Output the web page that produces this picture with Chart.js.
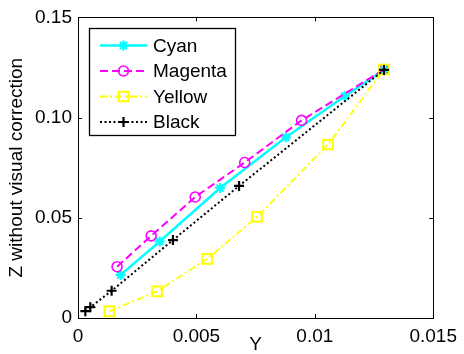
<!DOCTYPE html>
<html><head><meta charset="utf-8">
<script src="https://cdn.jsdelivr.net/npm/chart.js@4/dist/chart.umd.min.js"></script>
<style>html,body{margin:0;padding:0;background:#fff}#w{width:464px;height:354px;position:relative}</style>
</head><body><div id="w"><canvas id="c" width="464" height="354"></canvas></div>
<script>
const seriesNames = ["Cyan", "Magenta", "Yellow", "Black"];
const cyanX = [0.0018, 0.00345, 0.0060, 0.00878, 0.01126, 0.01292];
const cyanY = [0.0215, 0.0382, 0.0649, 0.0902, 0.1107, 0.1238];
const magentaX = [0.00165, 0.00309, 0.00495, 0.00704, 0.00944, 0.01292];
const magentaY = [0.0256, 0.0410, 0.0604, 0.0776, 0.0986, 0.1240];
const yellowX = [0.00132, 0.00334, 0.00546, 0.00756, 0.01056, 0.01292];
const yellowY = [0.0033, 0.0133, 0.0295, 0.0505, 0.0866, 0.1240];
const blackX = [0.00031, 0.00052, 0.00142, 0.00401, 0.0068, 0.01292];
const blackY = [0.0034, 0.0054, 0.0136, 0.0389, 0.0659, 0.1238];
const xTickLabels = ["0", "0.005", "0.01", "0.015"];
const yTickLabels = ["0", "0.05", "0.10", "0.15"];
const xTitle = "Y";
const yTitle = "Z without visual correction";

const FONT = "'Liberation Sans', Arial, Helvetica, sans-serif";
const pts = (xs, ys) => xs.map((x, i) => ({x: x, y: ys[i]}));

const styles = [
  {color: '#00FFFF', dash: [], width: 2.5, point: 'star', radius: 5, pw: 2.2},
  {color: '#FF00FF', dash: [8, 4], width: 2, point: 'circle', radius: 5, pw: 1.6},
  {color: '#FFFF00', dash: [7, 3, 2, 3], width: 1.8, point: 'rect', radius: 6.8, pw: 2},
  {color: '#000000', dash: [2, 2.5], width: 2, point: 'cross', radius: 5, pw: 2.2}
];
const seriesData = [pts(cyanX, cyanY), pts(magentaX, magentaY), pts(yellowX, yellowY), pts(blackX, blackY)];

function drawMarker(ctx, style, x, y, r) {
  ctx.beginPath();
  if (style === 'circle') {
    ctx.arc(x, y, r, 0, Math.PI * 2);
  } else if (style === 'rect') {
    const s = Math.SQRT1_2 * r;
    ctx.rect(x - s, y - s, 2 * s, 2 * s);
  } else if (style === 'cross') {
    ctx.moveTo(x - r, y); ctx.lineTo(x + r, y);
    ctx.moveTo(x, y - r); ctx.lineTo(x, y + r);
  } else if (style === 'star') {
    ctx.moveTo(x - r, y); ctx.lineTo(x + r, y);
    ctx.moveTo(x, y - r); ctx.lineTo(x, y + r);
    const d = r * Math.SQRT1_2;
    ctx.moveTo(x - d, y - d); ctx.lineTo(x + d, y + d);
    ctx.moveTo(x - d, y + d); ctx.lineTo(x + d, y - d);
  }
  ctx.stroke();
}

const framePlugin = {
  id: 'frame',
  beforeDatasetsDraw(chart) {
    const {ctx, chartArea: a, scales} = chart;
    ctx.save();
    ctx.strokeStyle = '#000';
    ctx.lineWidth = 1;
    ctx.setLineDash([]);
    ctx.strokeRect(Math.round(a.left) + 0.5, Math.round(a.top) + 0.5, Math.round(a.right - a.left), Math.round(a.bottom - a.top));
    const tl = 4;
    ctx.beginPath();
    scales.x.ticks.forEach(t => {
      const px = Math.round(scales.x.getPixelForValue(t.value)) + 0.5;
      ctx.moveTo(px, a.bottom); ctx.lineTo(px, a.bottom - tl);
      ctx.moveTo(px, a.top); ctx.lineTo(px, a.top + tl);
    });
    scales.y.ticks.forEach(t => {
      const py = Math.round(scales.y.getPixelForValue(t.value)) + 0.5;
      ctx.moveTo(a.left, py); ctx.lineTo(a.left + tl, py);
      ctx.moveTo(a.right, py); ctx.lineTo(a.right - tl, py);
    });
    ctx.stroke();
    ctx.restore();
  },
  afterDatasetsDraw(chart) {
    const {ctx} = chart;
    const bx = 89.5, by = 28.5, bw = 146, bh = 107;
    ctx.save();
    ctx.fillStyle = '#fff';
    ctx.fillRect(bx, by, bw, bh);
    ctx.strokeStyle = '#000';
    ctx.lineWidth = 1.3;
    ctx.setLineDash([]);
    ctx.strokeRect(bx, by, bw, bh);
    const rows = [45.5, 71, 96.5, 122];
    seriesNames.forEach((name, i) => {
      const s = styles[i];
      const y = rows[i];
      ctx.strokeStyle = s.color;
      ctx.lineWidth = s.width;
      ctx.setLineDash(s.dash);
      ctx.beginPath();
      ctx.moveTo(100, y); ctx.lineTo(147.5, y);
      ctx.stroke();
      ctx.setLineDash([]);
      ctx.lineWidth = s.pw;
      drawMarker(ctx, s.point, 123.5, y, s.radius);
      ctx.fillStyle = '#000';
      ctx.font = "19px " + FONT;
      ctx.textBaseline = 'middle';
      ctx.textAlign = 'left';
      ctx.fillText(name, 153, y + 1);
    });
    ctx.restore();
  }
};

new Chart(document.getElementById('c'), {
  type: 'scatter',
  data: {
    datasets: seriesNames.map((n, i) => ({
      label: n,
      data: seriesData[i],
      showLine: true,
      borderColor: styles[i].color,
      borderWidth: styles[i].width,
      borderDash: styles[i].dash,
      backgroundColor: 'transparent',
      pointStyle: styles[i].point,
      pointRadius: styles[i].radius,
      pointBorderWidth: styles[i].pw,
      pointBorderColor: styles[i].color,
      pointBackgroundColor: 'transparent',
      pointHoverRadius: styles[i].radius,
      tension: 0,
      order: 4 - i
    }))
  },
  options: {
    responsive: false,
    animation: false,
    events: [],
    layout: {padding: {top: 13, right: 24, left: 0, bottom: 0}},
    plugins: {legend: {display: false}, tooltip: {enabled: false}},
    scales: {
      x: {
        type: 'linear', min: 0, max: 0.015,
        afterBuildTicks(s) { s.ticks = xTickLabels.map((l, i) => ({value: i * 0.005})); },
        ticks: {callback: (v, i) => xTickLabels[i], color: '#000', font: {size: 19, family: FONT}, padding: 7, maxRotation: 0, autoSkip: false},
        grid: {display: false, drawTicks: false},
        border: {display: false},
        title: {display: true, text: xTitle, color: '#000', font: {size: 19, family: FONT}, padding: {top: 0, bottom: -2}},
        afterFit(s) { s.height = 36; }
      },
      y: {
        type: 'linear', min: 0, max: 0.15,
        afterBuildTicks(s) { s.ticks = yTickLabels.map((l, i) => ({value: i * 0.05})); },
        ticks: {callback: (v, i) => yTickLabels[i], color: '#000', font: {size: 19, family: FONT}, padding: 6, autoSkip: false},
        grid: {display: false, drawTicks: false},
        border: {display: false},
        title: {display: true, text: yTitle, color: '#000', font: {size: 19, family: FONT}, padding: {top: 5, bottom: 0}},
        afterFit(s) { s.width = 78; }
      }
    }
  },
  plugins: [framePlugin]
});
</script>
</body></html>
